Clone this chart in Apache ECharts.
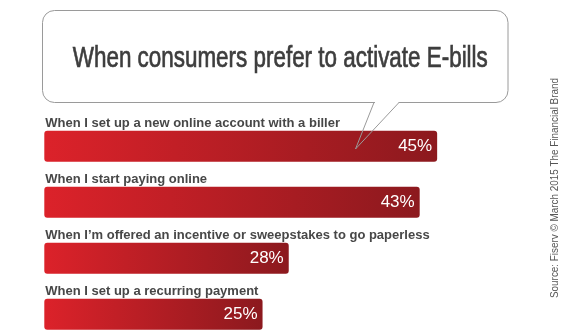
<!DOCTYPE html>
<html>
<head>
<meta charset="utf-8">
<script src="https://cdn.jsdelivr.net/npm/echarts@6/dist/echarts.min.js"></script>
<style>html,body{margin:0;padding:0;background:#fff}#c{width:565px;height:333px}</style>
</head>
<body>
<div id="c"></div>
<script>
var titleText = 'When consumers prefer to activate E-bills';
var sourceText = 'Source: Fiserv \u00A9 March 2015 The Financial Brand';
var categories = [
  'When I set up a new online account with a biller',
  'When I start paying online',
  'When I\u2019m offered an incentive or sweepstakes to go paperless',
  'When I set up a recurring payment'
];
var values = [45, 43, 28, 25];

function measure(text, font) {
  var c = document.createElement('canvas').getContext('2d');
  c.font = font;
  return c.measureText(text).width;
}
var titleFont = 'normal 29px "Liberation Sans Narrow", "Liberation Sans", Arial, sans-serif';
var titleScale = 415 / measure(titleText, titleFont);
var srcFont = 'normal 10px "Liberation Sans", Arial, sans-serif';
var srcScale = 220 / measure(sourceText, srcFont);

var chart = echarts.init(document.getElementById('c'), null, {renderer: 'canvas'});
var barGrad = new echarts.graphic.LinearGradient(0, 0, 1, 0, [
  {offset: 0, color: '#dc222a'},
  {offset: 1, color: '#8c191e'}
]);
chart.setOption({
  animation: false,
  backgroundColor: '#ffffff',
  grid: {left: 44.3, top: 118.2, width: 436.5, height: 224, containLabel: false, outerBoundsMode: 'none'},
  xAxis: {type: 'value', min: 0, max: 50, show: false},
  yAxis: {type: 'category', data: categories, inverse: true, show: false},
  series: [
    {
      type: 'bar',
      data: values,
      barWidth: 31,
      itemStyle: {color: barGrad, borderRadius: 3},
      label: {
        show: true, position: 'insideRight', distance: 5,
        formatter: '{c}%', color: '#ffffff',
        fontFamily: '"Liberation Sans", Arial, sans-serif', fontSize: 17
      },
      z: 2
    },
    {
      type: 'bar',
      data: values,
      barWidth: 31,
      barGap: '-100%',
      itemStyle: {color: 'rgba(0,0,0,0)'},
      silent: true,
      label: {
        show: true, position: [1, -1], align: 'left', verticalAlign: 'bottom',
        formatter: function (p) { return p.name; },
        color: '#474747', fontWeight: 'bold', fontSize: 13,
        fontFamily: '"Liberation Sans", Arial, sans-serif'
      },
      z: 3
    }
  ],
  graphic: [
    {
      type: 'rect', z: 1,
      shape: {x: 42.5, y: 10.5, width: 465.5, height: 92, r: 12},
      style: {fill: '#ffffff', stroke: '#9a9a9a', lineWidth: 1}
    },
    {
      type: 'rect', z: 2,
      shape: {x: 375, y: 100, width: 23.5, height: 5},
      style: {fill: '#ffffff'}
    },
    {
      type: 'polyline', z: 100,
      shape: {points: [[374, 102.5], [355.5, 149], [399, 102.5]]},
      style: {stroke: '#9a9a9a', lineWidth: 1, fill: null}
    },
    {
      type: 'text', z: 5,
      x: 280.3, y: 58.5, scaleX: titleScale, scaleY: 1,
      style: {
        text: titleText, font: titleFont, fill: '#3d3d3d',
        stroke: '#3d3d3d', lineWidth: 0.7,
        align: 'center', verticalAlign: 'middle'
      }
    },
    {
      type: 'text', z: 5,
      x: 555, y: 188, rotation: Math.PI / 2, scaleX: srcScale,
      style: {
        text: sourceText, font: srcFont, fill: '#555555',
        align: 'center', verticalAlign: 'middle'
      }
    }
  ]
});
</script>
</body>
</html>
